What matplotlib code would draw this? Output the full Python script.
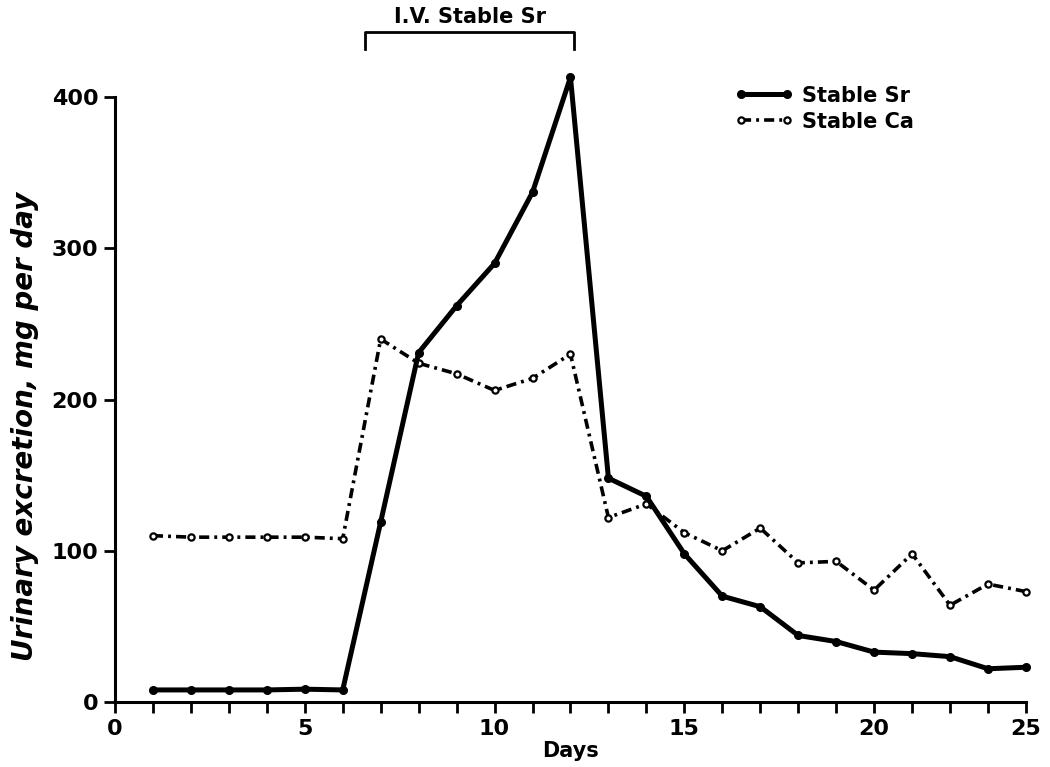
import numpy as np
import matplotlib
matplotlib.use("Agg")
import matplotlib.pyplot as plt

# days of collection (the hand-drawn axis has 24 day ticks, last one labelled 25)
days = list(range(1, 25))

sr = [8, 8, 8, 8, 8.5, 8, 119, 231, 262, 290, 337, 413,
      148, 136, 98, 70, 63, 44, 40, 33, 32, 30, 22, 23]
ca = [110, 109, 109, 109, 109, 108, 240, 224, 217, 206, 214, 230,
      122, 131, 112, 100, 115, 92, 93, 74, 98, 64, 78, 73]

xtick_pos = [0, 5, 10, 15, 20, 24]
xtick_lab = ["0", "5", "10", "15", "20", "25"]
yticks = [0, 100, 200, 300, 400]

iv_start, iv_end = 6.6, 12.1
iv_label = "I.V. Stable Sr"

plt.rcParams['font.family'] = ['DejaVu Sans']

fig = plt.figure(figsize=(10.5, 7.67), dpi=100)
ax = fig.add_axes([0.1095, 0.0847, 0.8676, 0.7888])

ax.plot(days, sr, color="black", lw=3.6, marker="o", ms=5.5,
        mfc="black", mec="black", clip_on=False, label="Stable Sr", zorder=3)
ax.plot(days, ca, color="black", lw=2.6, ls=(0, (2.8, 1.4, 0.8, 1.4)),
        marker="o", ms=4.5, mfc="white", mec="black", mew=1.6,
        clip_on=False, label="Stable Ca", zorder=2)

ax.set_xlim(0, 24)
ax.set_ylim(0, 400)
ax.spines['top'].set_visible(False)
ax.spines['right'].set_visible(False)
ax.spines['left'].set_linewidth(2.2)
ax.spines['bottom'].set_linewidth(2.2)

ax.set_xticks(range(0, 25), minor=True)
ax.set_xticks(xtick_pos)
ax.set_xticklabels(xtick_lab)
ax.set_yticks(yticks)
ax.tick_params(which="both", direction="out", length=8, width=2, pad=4)
ax.tick_params(axis="both", labelsize=16)
for t in ax.get_xticklabels() + ax.get_yticklabels():
    t.set_fontweight("bold")

ax.set_xlabel("Days", fontsize=15, fontweight="bold", labelpad=2)
ax.set_ylabel("Urinary excretion, mg per day", fontsize=20,
              fontweight="bold", style="italic")
ax.yaxis.set_label_coords(-0.083, 0.455)

# infusion bracket above the plot
yb_top, yb_bot = 443, 432
ax.plot([iv_start, iv_start, iv_end, iv_end], [yb_bot, yb_top, yb_top, yb_bot],
        color="black", lw=2, clip_on=False)
ax.text((iv_start + iv_end) / 2, yb_top + 3, iv_label, ha="center", va="bottom",
        fontsize=15, fontweight="bold")

leg = ax.legend(loc="upper left", bbox_to_anchor=(0.66, 1.05), frameon=False,
                numpoints=2, handlelength=2.8, fontsize=15,
                prop={"weight": "bold", "size": 15}, labelspacing=0.3,
                handletextpad=0.4)

fig.savefig("out.png", dpi=100)
